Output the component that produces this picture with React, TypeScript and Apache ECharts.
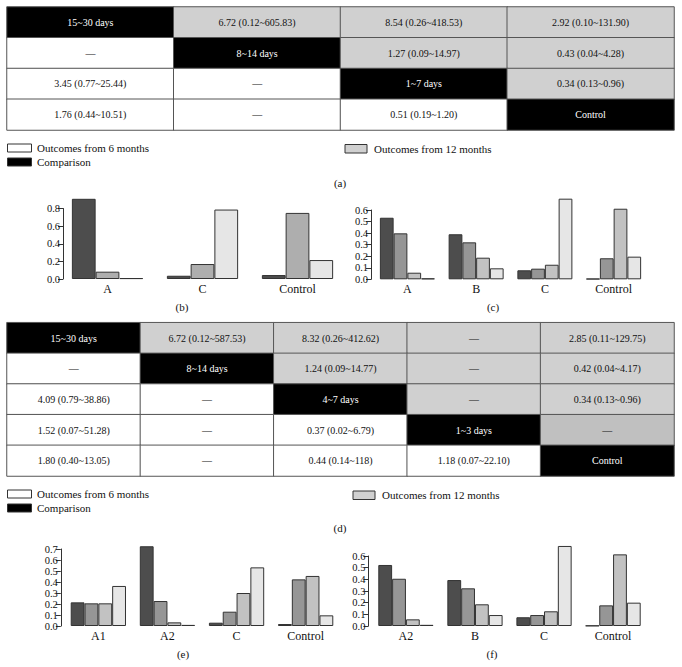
import React, { useEffect, useRef } from "react";
import * as echarts from "echarts";

// ---------- Table (a) ----------
const tableAText = [
  ["15~30 days", "6.72 (0.12~605.83)", "8.54 (0.26~418.53)", "2.92 (0.10~131.90)"],
  ["—", "8~14 days", "1.27 (0.09~14.97)", "0.43 (0.04~4.28)"],
  ["3.45 (0.77~25.44)", "—", "1~7 days", "0.34 (0.13~0.96)"],
  ["1.76 (0.44~10.51)", "—", "0.51 (0.19~1.20)", "Control"],
];
// 0 = 6 months (white), 1 = 12 months (gray), 2 = comparison (black), 3 = darker gray
const tableAKind = [
  [2, 1, 1, 1],
  [0, 2, 1, 1],
  [0, 0, 2, 1],
  [0, 0, 0, 2],
];

// ---------- Table (d) ----------
const tableDText = [
  ["15~30 days", "6.72 (0.12~587.53)", "8.32 (0.26~412.62)", "—", "2.85 (0.11~129.75)"],
  ["—", "8~14 days", "1.24 (0.09~14.77)", "—", "0.42 (0.04~4.17)"],
  ["4.09 (0.79~38.86)", "—", "4~7 days", "—", "0.34 (0.13~0.96)"],
  ["1.52 (0.07~51.28)", "—", "0.37 (0.02~6.79)", "1~3 days", "—"],
  ["1.80 (0.40~13.05)", "—", "0.44 (0.14~118)", "1.18 (0.07~22.10)", "Control"],
];
const tableDKind = [
  [2, 1, 1, 1, 1],
  [0, 2, 1, 1, 1],
  [0, 0, 2, 1, 1],
  [0, 0, 0, 2, 3],
  [0, 0, 0, 0, 2],
];

// ---------- Chart (b) ----------
const bCats = ["A", "C", "Control"];
const bS1 = [0.91, 0.037, 0.045];
const bS2 = [0.083, 0.17, 0.75];
const bS3 = [0.01, 0.788, 0.215];

// ---------- Chart (c) ----------
const cCats = ["A", "B", "C", "Control"];
const cS1 = [0.533, 0.39, 0.078, 0.005];
const cS2 = [0.398, 0.32, 0.092, 0.182];
const cS3 = [0.057, 0.187, 0.126, 0.611];
const cS4 = [0.008, 0.095, 0.698, 0.196];

// ---------- Chart (e) ----------
const eCats = ["A1", "A2", "C", "Control"];
const eS1 = [0.215, 0.725, 0.03, 0.018];
const eS2 = [0.206, 0.227, 0.13, 0.424];
const eS3 = [0.206, 0.033, 0.3, 0.455];
const eS4 = [0.364, 0.01, 0.533, 0.097];

// ---------- Chart (f) ----------
const fCats = ["A2", "B", "C", "Control"];
const fS1 = [0.523, 0.394, 0.075, 0.003];
const fS2 = [0.405, 0.323, 0.094, 0.177];
const fS3 = [0.057, 0.186, 0.126, 0.614];
const fS4 = [0.01, 0.094, 0.686, 0.2];

// tick labels
const bTicks = { max: 0.8, interval: 0.2 };
const cTicks = { max: 0.6, interval: 0.1 };
const eTicks = { max: 0.7, interval: 0.1 };
const fTicks = { max: 0.6, interval: 0.1 };

const legendLabels = ["Outcomes from 6 months", "Comparison", "Outcomes from 12 months"];
const captions = ["(a)", "(b)", "(c)", "(d)", "(e)", "(f)"];

const FONT = "Liberation Serif, serif";
const kindColor = ["#ffffff", "#d0d0d0", "#000000", "#c0c0c0"];
const gray3 = ["#4d4d4d", "#aeaeae", "#e6e6e6"];
const gray4 = ["#4d4d4d", "#969696", "#c2c2c2", "#e6e6e6"];

function tableData(text: string[][], kind: number[][]) {
  const out: any[] = [];
  text.forEach((row, r) =>
    row.forEach((t, c) => {
      const k = kind[r][c];
      out.push({
        value: [c, r, k],
        name: t,
        label: { color: k === 2 ? "#ffffff" : "#111111" },
      });
    })
  );
  return out;
}

export default function App() {
  const ref = useRef<HTMLDivElement>(null);
  useEffect(() => {
    document.body.style.margin = "0";
    const chart = echarts.init(ref.current!, null, { renderer: "svg" });

    const grids = [
      { left: 7, top: 7, width: 667, height: 123 }, // a
      { left: 60, top: 208.5, width: 285, height: 70.5 }, // b
      { left: 373, top: 210, width: 275, height: 69.3 }, // c
      { left: 7, top: 322.7, width: 667, height: 153.3 }, // d
      { left: 63.8, top: 549, width: 276.4, height: 77 }, // e
      { left: 371.4, top: 556, width: 276.2, height: 70 }, // f
    ];

    const tableX = (n: number, gi: number) => ({
      type: "category",
      gridIndex: gi,
      data: Array.from({ length: n }, (_, i) => String(i)),
      show: false,
    });
    const tableY = (n: number, gi: number) => ({
      type: "category",
      gridIndex: gi,
      inverse: true,
      data: Array.from({ length: n }, (_, i) => String(i)),
      show: false,
    });
    const catX = (cats: string[], gi: number) => ({
      type: "category",
      gridIndex: gi,
      data: cats,
      axisLine: { show: false },
      axisTick: { show: false },
      axisLabel: { fontSize: 12, color: "#111", margin: 4, fontFamily: FONT },
    });
    const valY = (t: { max: number; interval: number }, gi: number, offset: number) => ({
      type: "value",
      gridIndex: gi,
      min: 0,
      max: t.max,
      interval: t.interval,
      offset,
      splitLine: { show: false },
      axisLine: { show: true, lineStyle: { color: "#333", width: 1 } },
      axisTick: { show: true, length: 5, lineStyle: { color: "#333" } },
      axisLabel: {
        fontSize: 10.5,
        color: "#111",
        margin: 3,
        fontFamily: FONT,
        showMinLabel: true,
        showMaxLabel: true,
        hideOverlap: false,
        formatter: (v: number) => v.toFixed(1),
      },
    });

    const barSeries = (vals: number[][], colors: string[], gi: number, gap: string) =>
      vals.map((v, i) => ({
        type: "bar",
        xAxisIndex: gi,
        yAxisIndex: gi,
        data: v,
        clip: false,
        barGap: "0%",
        barCategoryGap: gap,
        itemStyle: { color: colors[i], borderColor: "#333", borderWidth: 1 },
        emphasis: { disabled: true },
        silent: true,
      }));

    const heat = (text: string[][], kind: number[][], gi: number) => ({
      type: "heatmap",
      xAxisIndex: gi,
      yAxisIndex: gi,
      data: tableData(text, kind),
      itemStyle: { borderColor: "#555", borderWidth: 1 },
      label: {
        show: true,
        fontSize: 10,
        fontFamily: FONT,
        formatter: (p: any) => p.data.name,
      },
      emphasis: { disabled: true },
      silent: true,
    });

    const txt = (text: string, x: number, y: number, align = "left", size = 11) => ({
      type: "text",
      x,
      y,
      silent: true,
      style: {
        text,
        fill: "#111",
        fontSize: size,
        fontFamily: FONT,
        align,
        verticalAlign: "middle",
        textAlign: align,
        textVerticalAlign: "middle",
      },
    });
    const box = (x: number, y: number, w: number, h: number, fill: string) => ({
      type: "rect",
      silent: true,
      shape: { x, y, width: w, height: h },
      style: { fill, stroke: "#333", lineWidth: 1 },
    });

    const legend = (y0: number, gx: number, gtx: number, gy: number) => [
      box(7.5, y0 - 4, 24, 8, kindColor[0]),
      txt(legendLabels[0], 37, y0),
      box(7.5, y0 + 10, 24, 8, kindColor[2]),
      txt(legendLabels[1], 37, y0 + 14),
      box(gx, gy - 4, 22, 8.5, kindColor[1]),
      txt(legendLabels[2], gtx, gy),
    ];

    chart.setOption({
      animation: false,
      textStyle: { fontFamily: FONT },
      grid: grids,
      visualMap: {
        type: "piecewise",
        show: false,
        dimension: 2,
        seriesIndex: [0, 8],
        pieces: [
          { value: 0, color: kindColor[0] },
          { value: 1, color: kindColor[1] },
          { value: 2, color: kindColor[2] },
          { value: 3, color: kindColor[3] },
        ],
      },
      xAxis: [
        tableX(4, 0),
        catX(bCats, 1),
        catX(cCats, 2),
        tableX(5, 3),
        catX(eCats, 4),
        catX(fCats, 5),
      ],
      yAxis: [
        tableY(4, 0),
        valY(bTicks, 1, -3),
        valY(cTicks, 2, 2),
        tableY(5, 3),
        valY(eTicks, 4, 3),
        valY(fTicks, 5, 3),
      ],
      series: [
        heat(tableAText, tableAKind, 0),
        ...barSeries([bS1, bS2, bS3], gray3, 1, "25%"),
        ...barSeries([cS1, cS2, cS3, cS4], gray4, 2, "20%"),
        heat(tableDText, tableDKind, 3),
        ...barSeries([eS1, eS2, eS3, eS4], gray4, 4, "20%"),
        ...barSeries([fS1, fS2, fS3, fS4], gray4, 5, "20%"),
      ],
      graphic: [
        ...legend(148, 345, 374, 148.5),
        ...legend(494, 353, 382, 495),
        txt(captions[0], 340, 183, "center", 11),
        txt(captions[1], 182, 307, "center", 11),
        txt(captions[2], 493, 307, "center", 11),
        txt(captions[3], 340, 528, "center", 11),
        txt(captions[4], 183, 654, "center", 11),
        txt(captions[5], 492, 654, "center", 11),
      ],
    });
    return () => chart.dispose();
  }, []);
  return <div ref={ref} style={{ width: 682, height: 667 }} />;
}
